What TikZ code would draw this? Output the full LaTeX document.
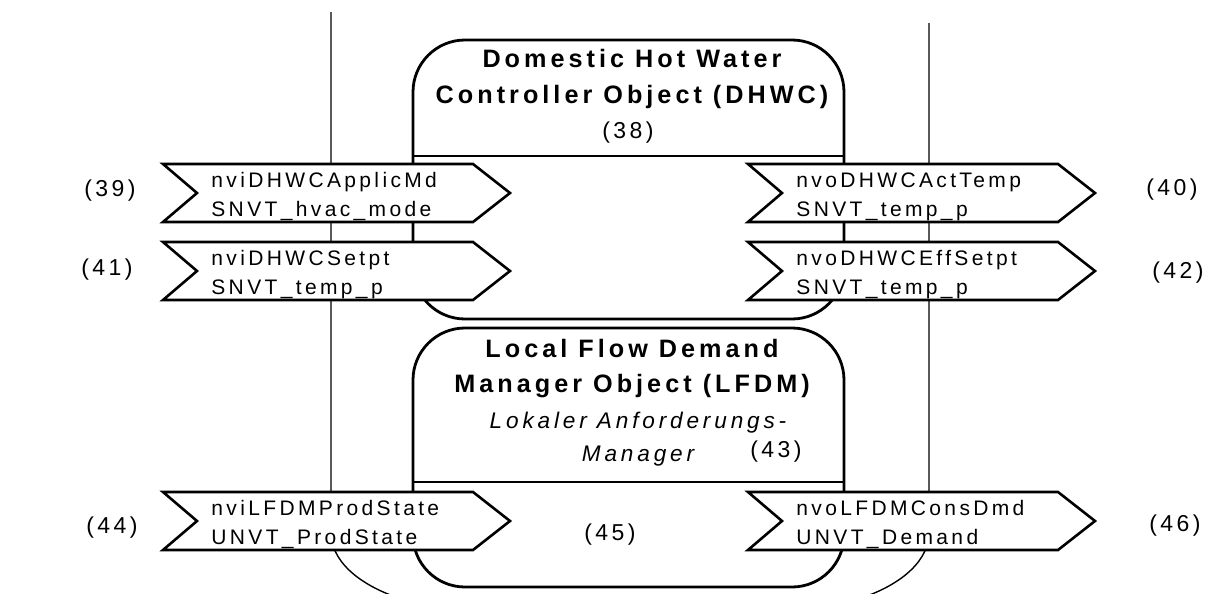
\documentclass[tikz,border=0pt]{standalone}
\usepackage{fontspec}
\setmainfont{Liberation Sans}
\begin{document}
\begin{tikzpicture}[x=0.5pt,y=-0.5pt,
    objbox/.style={line width=1.4pt,rounded corners=26pt},
    port/.style={line width=1.3pt,fill=white,line join=miter},
    porttext/.style={anchor=base west,align=left,inner sep=0pt,
      font=\fontsize{10.5}{14.5}\selectfont\addfontfeature{LetterSpace=16}},
    objtitle/.style={anchor=base,align=center,inner sep=0pt,
      font=\fontsize{12.6}{17.5}\selectfont\bfseries\addfontfeature{LetterSpace=16}},
    objsub/.style={anchor=base,align=center,inner sep=0pt,
      font=\fontsize{11.3}{16.5}\selectfont\itshape\addfontfeature{LetterSpace=17}},
    number/.style={inner sep=0pt,font=\fontsize{11.5}{13}\selectfont\addfontfeature{LetterSpace=15}}]
    \useasboundingbox (0,0) rectangle (1212,594);

    % device border
    \draw [line width=0.7pt] (331,12) -- (331,535) .. controls (333,565) and (365,588) .. (405,600);
    \draw [line width=0.7pt] (929,23) -- (929,535) .. controls (927,565) and (895,588) .. (855,600);

    % objects
    \draw [objbox] (413,40) rectangle (844,319);
    \draw [line width=1.4pt] (413,156) -- (844,156);
    \draw [objbox] (413,328) rectangle (844,587);
    \draw [line width=1.4pt] (413,482) -- (844,482);

    \node[objtitle] (dhwc) at (632,103) {Domestic Hot Water\\Controller Object (DHWC)};
    \node[number,anchor=base] (n38) at (628,138) {(38)};
    \node[objtitle] (lfdm) at (632,392) {Local Flow Demand\\Manager Object (LFDM)};
    \node[objsub] (lfdmsub) at (638,461) {Lokaler Anforderungs-\\Manager};
    \node[number,anchor=base] (n43) at (776,457) {(43)};
    \node[number] (n45) at (610,535) {(45)};

    % network variables
    \foreach \px/\py/\nv/\ty in {163/164/nviDHWCApplicMd/SNVT\_hvac\_mode,
        163/242/nviDHWCSetpt/SNVT\_temp\_p,
        163/492/nviLFDMProdState/UNVT\_ProdState,
        748/164/nvoDHWCActTemp/SNVT\_temp\_p,
        748/242/nvoDHWCEffSetpt/SNVT\_temp\_p,
        748/492/nvoLFDMConsDmd/UNVT\_Demand}
    {
        \draw [port] (\px,\py) -- ++(310,0) -- ++(37,29) -- ++(-37,29) -- ++(-310,0) -- ++(34,-29) -- cycle;
        \node[porttext] (\nv) at (\px+48,\py+52) {\nv\\\ty};
    }

    \node[number] (n39) at (110,191) {(39)};
    \node[number] (n41) at (107,270) {(41)};
    \node[number] (n44) at (112,528) {(44)};
    \node[number] (n40) at (1172,190) {(40)};
    \node[number] (n42) at (1178,273) {(42)};
    \node[number] (n46) at (1175,526) {(46)};
\end{tikzpicture}
\end{document}
